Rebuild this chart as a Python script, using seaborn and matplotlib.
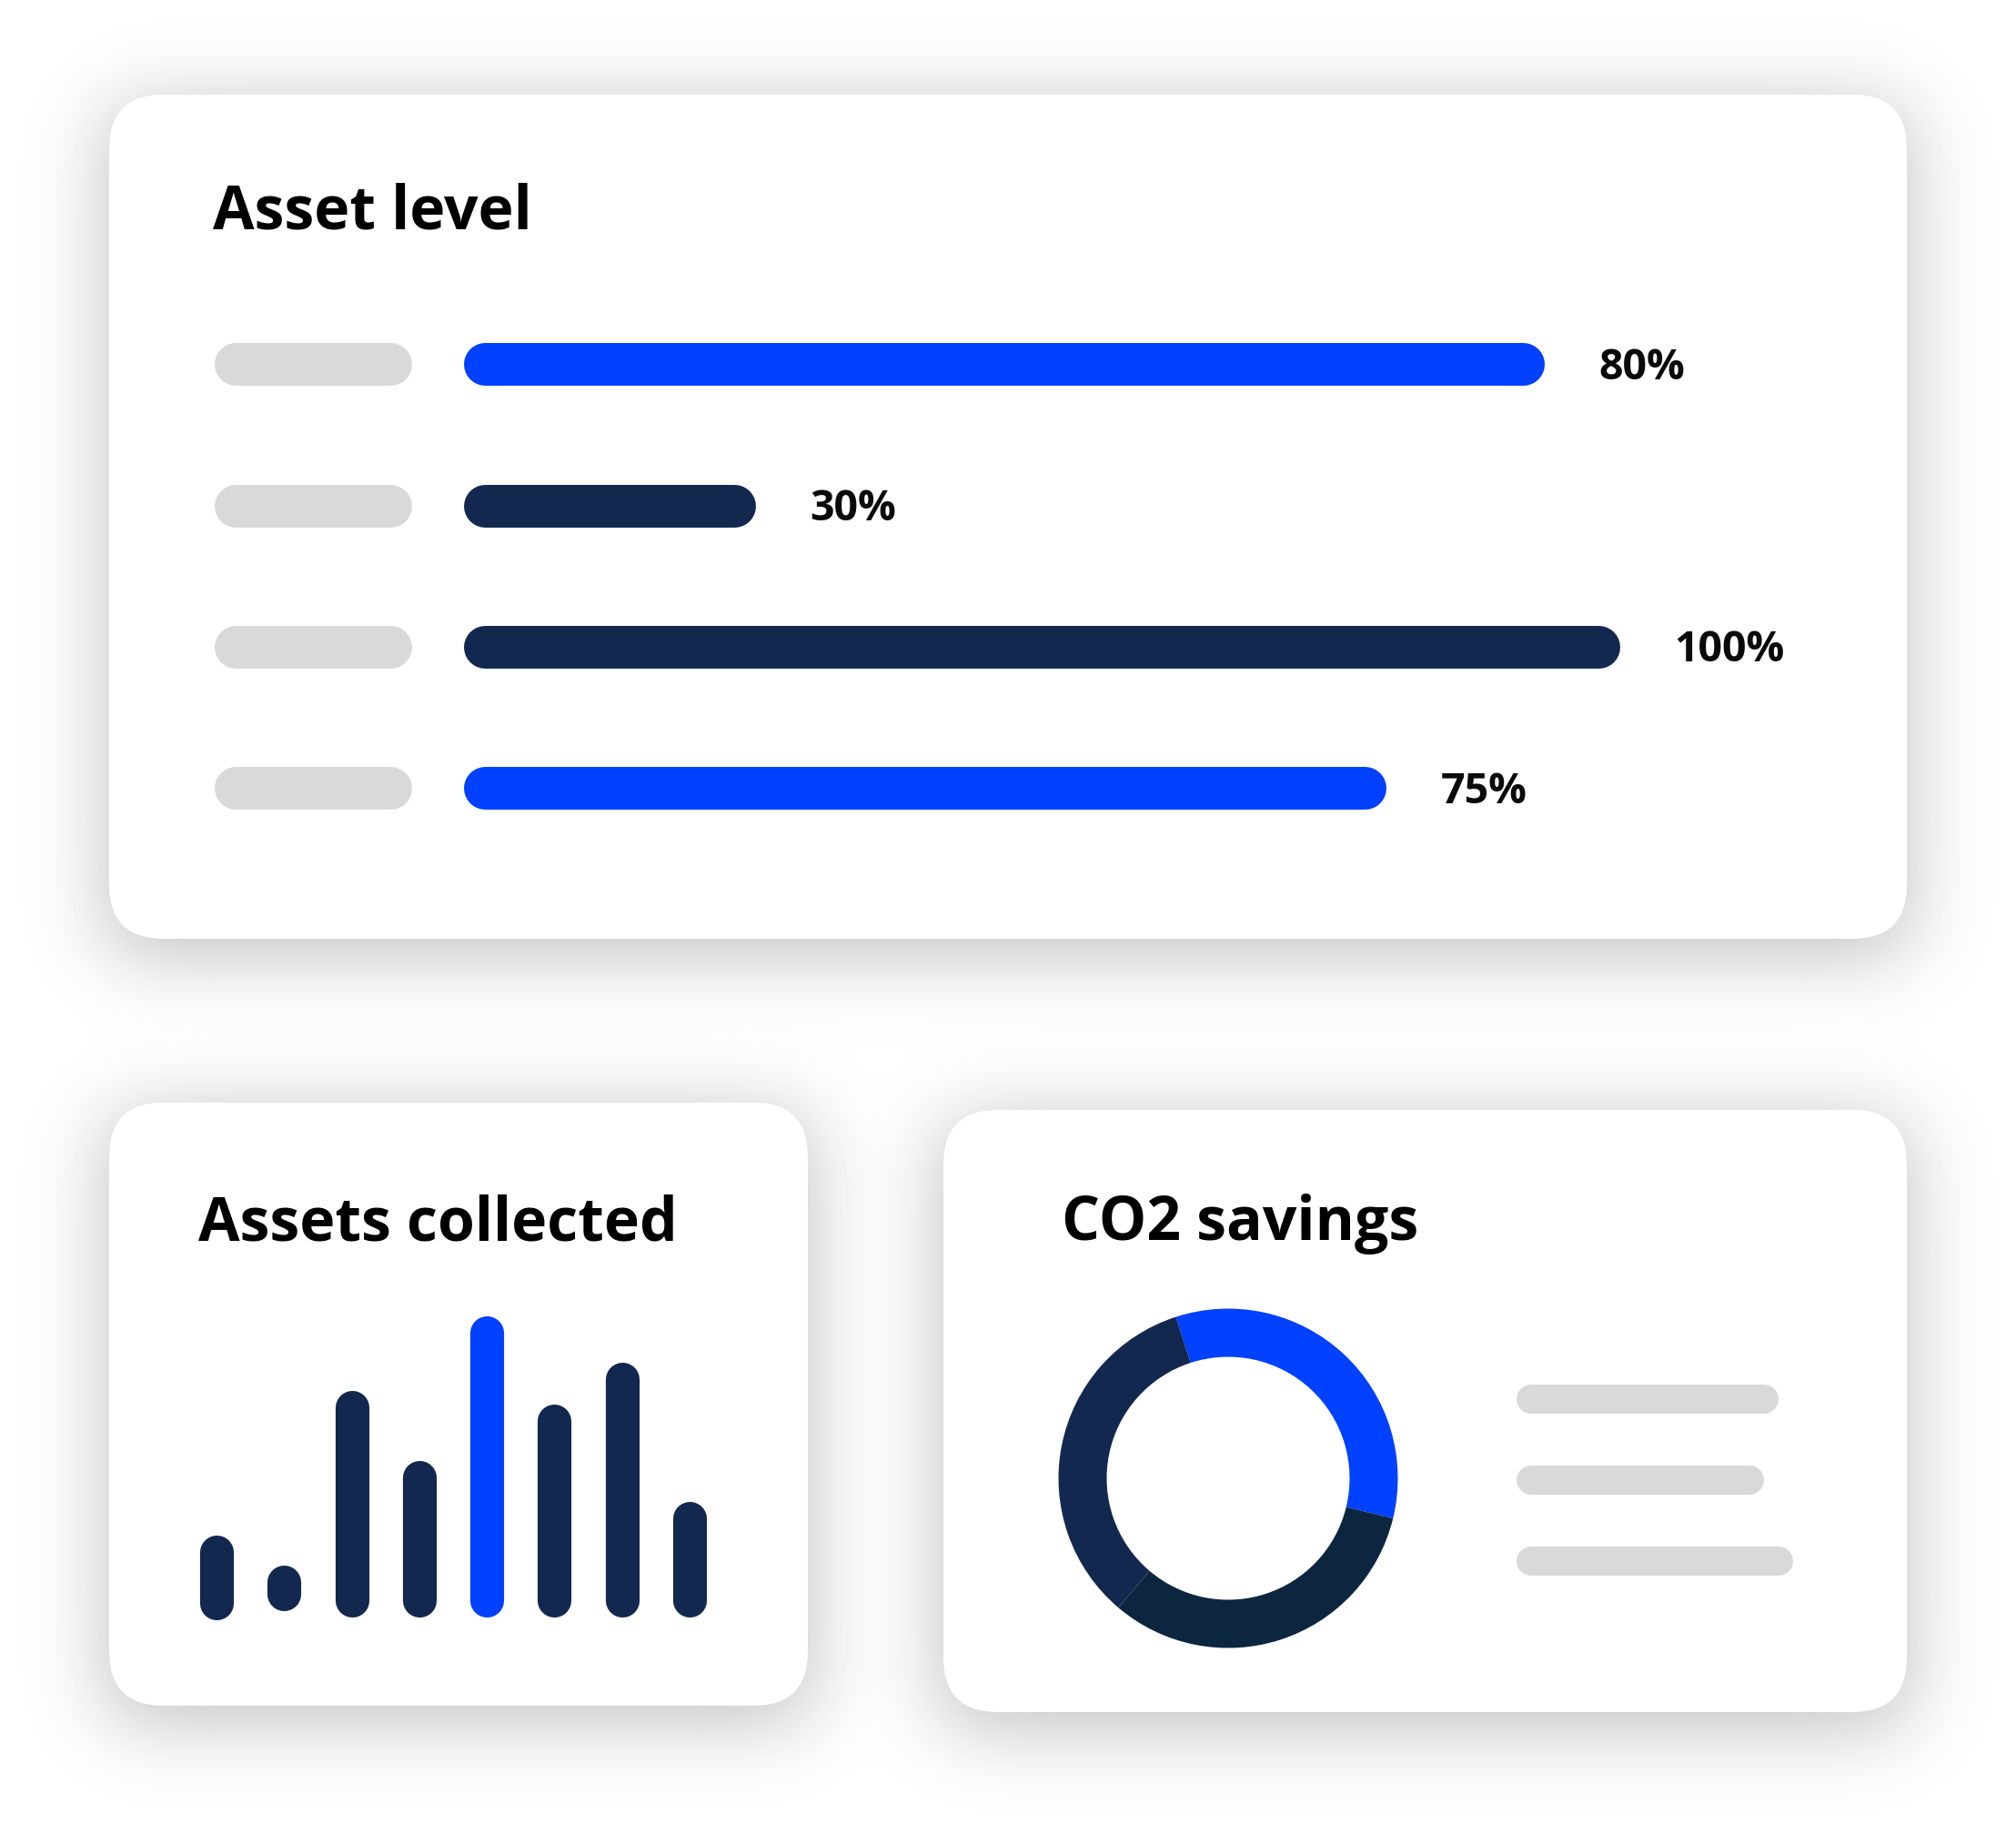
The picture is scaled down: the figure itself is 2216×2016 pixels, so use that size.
import math
import numpy as np
import matplotlib
matplotlib.use("Agg")
import matplotlib.pyplot as plt
from matplotlib.patches import FancyBboxPatch
import seaborn as sns

W, H = 2216, 2016

# Asset level (bar lengths, in % of the longest bar)
level_rows = ["r1", "r2", "r3", "r4"]
level_fill = [93.5, 25.2, 100, 79.8]
level_labels = ["80%", "30%", "100%", "75%"]
level_colors = ["#0040ff", "#13284f", "#13284f", "#0040ff"]
level_placeholder = [216, 216, 216, 216]

# Assets collected (column heights in px, small lift of the base)
collected_cols = ["c1", "c2", "c3", "c4", "c5", "c6", "c7", "c8"]
collected = [94, 51, 250, 173, 332, 235, 281, 128]
collected_lift = [-3, 7, 0, 0, 0, 0, 0, 0]
collected_colors = ["#13284f", "#13284f", "#13284f", "#13284f",
                    "#0040ff", "#13284f", "#13284f", "#13284f"]

# CO2 savings
co2_share = [33.8, 32.4, 33.8]
co2_colors = ["#0040ff", "#0c2640", "#13284f"]
co2_rows = ["l1", "l2", "l3"]
co2_lines = [288, 272, 304]

GREY = "#d9d9d9"

sns.set_theme(style="white")
plt.rcParams["font.family"] = ["Open Sans", "DejaVu Sans"]

fig = plt.figure(figsize=(W / 100, H / 100), dpi=100)


def add_px_axes(x0, y0, x1, y1):
    ax = fig.add_axes([x0 / W, 1 - y1 / H, (x1 - x0) / W, (y1 - y0) / H])
    ax.set_axis_off()
    ax.patch.set_alpha(0)
    return ax


def round_bars(ax, horizontal, lift=None):
    # swap seaborn's rectangles for capsules (thick lines with round caps)
    pos = ax.get_position()
    xa, xb = ax.get_xlim()
    ya, yb = ax.get_ylim()
    px_x = pos.width * W / abs(xb - xa)
    px_y = pos.height * H / abs(yb - ya)
    for i, p in enumerate(list(ax.patches)):
        x, y, w, h = p.get_x(), p.get_y(), p.get_width(), p.get_height()
        fc = p.get_facecolor()
        p.remove()
        if lift is not None:
            y += lift[i]
        if horizontal:
            thick = abs(h) * px_y
            r = thick / 2 / px_x
            yc = y + h / 2
            xs_, ys_ = [x + r, x + w - r], [yc, yc]
        else:
            thick = abs(w) * px_x
            r = thick / 2 / px_y
            xc = x + w / 2
            xs_, ys_ = [xc, xc], [y + r, y + h - r]
        ax.plot(xs_, ys_, color=fc, lw=thick * 72 / 100, solid_capstyle="round",
                clip_on=False)


# background with soft card shadows
ax_bg = fig.add_axes([0, 0, 1, 1])
ax_bg.set_xlim(0, W)
ax_bg.set_ylim(H, 0)
ax_bg.set_axis_off()

cards = [(120, 104, 2096, 1032), (120, 1212, 888, 1875), (1037, 1220, 2096, 1882)]
erf = np.vectorize(math.erf)


def phi(v):
    return 0.5 * (1 + erf(v / math.sqrt(2)))


xs = np.arange(W) + 0.5
ys = np.arange(H) + 0.5
sig, dy, amp = 45.0, 15.0, 0.26
light = np.ones((H, W))
for x0, y0, x1, y1 in cards:
    sx = phi((xs - x0) / sig) - phi((xs - x1) / sig)
    sy = phi((ys - y0 - dy) / sig) - phi((ys - y1 - dy) / sig)
    light *= 1 - amp * np.outer(sy, sx)
ax_bg.imshow(light, cmap="gray", vmin=0, vmax=1, extent=(0, W, H, 0),
             aspect="auto", interpolation="bilinear", zorder=0)

for x0, y0, x1, y1 in cards:
    ax_bg.add_patch(FancyBboxPatch((x0, y0), x1 - x0, y1 - y0,
                                   boxstyle="round,pad=0,rounding_size=60",
                                   facecolor="white", edgecolor="none", zorder=1))

title_kw = dict(fontsize=47.5, fontweight="bold", color="black", va="baseline", ha="left")
ax_bg.text(234, 252, "Asset level", **title_kw)
ax_bg.text(218, 1364, "Assets collected", **title_kw)
ax_bg.text(1167, 1363, "CO2 savings", **title_kw)

# Asset level: placeholders + bars
row_px = 155.5
ax0 = add_px_axes(236, 322.5, 452, 944)
sns.barplot(x=level_placeholder, y=level_rows, orient="h", color=GREY,
            saturation=1, width=47 / row_px, ax=ax0)
ax0.set_xlim(0, 216)
ax0.set_ylim(3.5, -0.5)
ax0.set_axis_off()
round_bars(ax0, True)

unit_px = 12.7
ax1 = add_px_axes(510, 322.5, 1990, 944)
sns.barplot(x=level_fill, y=level_rows, orient="h", hue=level_rows,
            palette=dict(zip(level_rows, level_colors)), saturation=1,
            width=47 / row_px, legend=False, ax=ax1)
ax1.set_xlim(0, (1990 - 510) / unit_px)
ax1.set_ylim(3.5, -0.5)
ax1.set_axis_off()
round_bars(ax1, True)
for i, (v, lab) in enumerate(zip(level_fill, level_labels)):
    ax1.text(v + 60 / unit_px, i + 16.5 / row_px, lab, fontsize=33.5, fontweight="bold",
             color="#0a0a0a", va="baseline", ha="left")

# Assets collected
ax2 = add_px_axes(200.9, 1400, 795.1, 1778)
sns.barplot(x=collected_cols, y=collected, hue=collected_cols,
            palette=dict(zip(collected_cols, collected_colors)), saturation=1,
            width=0.5, legend=False, ax=ax2)
ax2.set_xlim(-0.5, 7.5)
ax2.set_ylim(0, 378)
ax2.set_axis_off()
round_bars(ax2, False, lift=collected_lift)

# CO2 savings donut
R = 186.5
ax3 = add_px_axes(1150, 1425, 1550, 1825)
ax3.pie(co2_share, colors=co2_colors, startangle=108, counterclock=False,
        radius=1, wedgeprops=dict(width=53 / R, linewidth=0))
ax3.set_xlim(-200 / R, 200 / R)
ax3.set_ylim(-200 / R, 200 / R)
ax3.set_axis_off()

ax4 = add_px_axes(1667, 1493.5, 1990, 1760.5)
sns.barplot(x=co2_lines, y=co2_rows, orient="h", color=GREY, saturation=1,
            width=32 / 89, ax=ax4)
ax4.set_xlim(0, 323)
ax4.set_ylim(2.5, -0.5)
ax4.set_axis_off()
round_bars(ax4, True)

fig.savefig("out.png", dpi=100)
